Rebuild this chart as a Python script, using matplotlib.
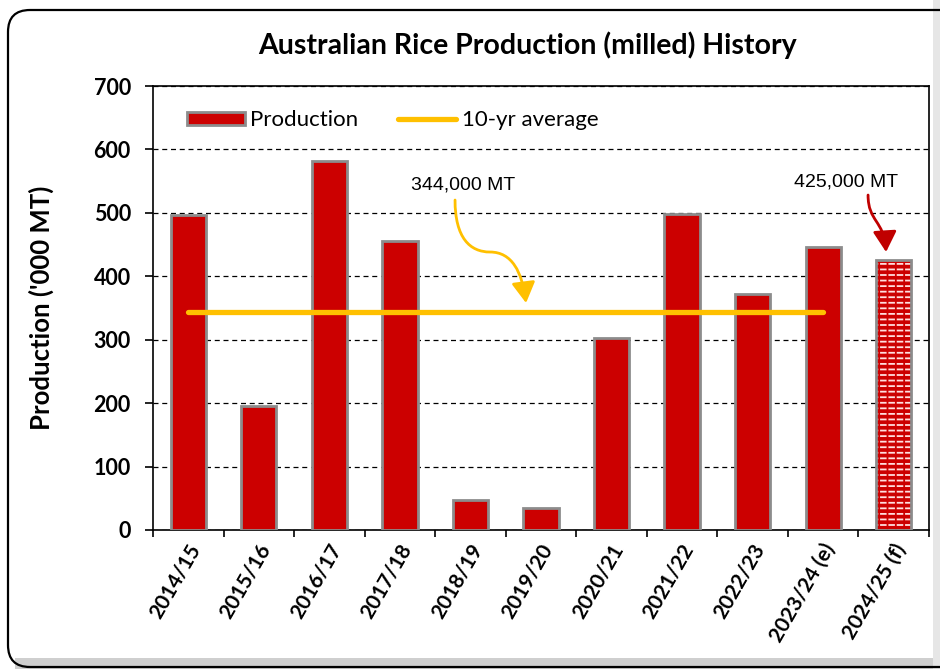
import matplotlib.pyplot as plt
from matplotlib.patches import FancyBboxPatch, Rectangle, FancyArrowPatch
from matplotlib.path import Path
from matplotlib.lines import Line2D
from matplotlib.transforms import IdentityTransform

# -------------------------------------------------------
# Données
# -------------------------------------------------------

seasons = ["2014/15", "2015/16", "2016/17", "2017/18", "2018/19", "2019/20",
           "2020/21", "2021/22", "2022/23", "2023/24 (e)", "2024/25 (f)"]
production = [497, 196, 582, 456, 47, 35, 303, 498, 372, 446, 425]
avg_value = 344
avg_span = seasons[:10]

plt.rcParams["font.family"] = ["Lato", "DejaVu Sans"]
plt.rcParams["hatch.linewidth"] = 1.3

fig = plt.figure(figsize=(9.4, 6.69), dpi=100)
fig.patch.set_facecolor("white")

# cadre arrondi + ombre grise
fig.patches.append(Rectangle((15, 0), 925, 11, transform=IdentityTransform(),
                             facecolor="#cfcfcf", edgecolor="none", zorder=0))
fig.patches.append(Rectangle((933, 0), 7, 669, transform=IdentityTransform(),
                             facecolor="#e6e6e6", edgecolor="none", zorder=0))
fig.patches.append(FancyBboxPatch((8, 2), 960, 657, transform=IdentityTransform(),
                                  boxstyle="round,pad=0,rounding_size=22",
                                  facecolor="none", edgecolor="black", linewidth=1.6,
                                  zorder=1))

ax = fig.add_axes([0.1628, 0.2078, 0.8255, 0.6636])

x = list(range(len(seasons)))
red = "#CC0000"
edge = "#8c8c8c"

# barres pleines
ax.bar(x[:-1], production[:-1], width=0.5, color=red, edgecolor=edge,
       linewidth=2, zorder=3)

# dernière barre (prévision) : motif pointillé
ax.bar(x[-1], production[-1], width=0.5, color=red, edgecolor="#ffdede",
       linewidth=0, hatch="---", zorder=3)
ax.bar(x[-1], production[-1], width=0.5, color="none", edgecolor=red,
       linewidth=0, hatch="||", zorder=3)
ax.bar(x[-1], production[-1], width=0.5, color="none", edgecolor=edge,
       linewidth=2, zorder=4)

# moyenne 10 ans
ax.plot([0, len(avg_span) - 1], [avg_value, avg_value], color="#FFC000",
        linewidth=3.8, solid_capstyle="round", zorder=5)

# axes
ax.set_xlim(-0.5, len(seasons) - 0.5)
ax.set_ylim(0, 700)
ax.set_yticks(range(0, 701, 100))
ax.yaxis.grid(True, linestyle=(0, (4, 3)), color="black", linewidth=0.9)
ax.set_axisbelow(True)
for s in ax.spines.values():
    s.set_linewidth(1.2)
ax.tick_params(axis="y", direction="out", length=6, width=1.2,
               labelsize=15.5, pad=10)
for lab in ax.get_yticklabels():
    lab.set_fontweight("bold")

ax.set_xticks([i - 0.5 for i in range(len(seasons) + 1)], minor=False)
ax.set_xticklabels([])
ax.tick_params(axis="x", direction="out", length=5, width=1.2)
for i, s in enumerate(seasons):
    ax.text(i + 0.1, -24, s, rotation=60, rotation_mode="anchor",
            ha="right", va="center", fontsize=15, fontweight="bold")

ax.set_ylabel("Production ('000 MT)", fontsize=18.5, fontweight="bold")
ax.yaxis.set_label_coords(-0.128, 0.5)

fig.text(0.561, 0.933, "Australian Rice Production (milled) History",
         ha="center", va="center", fontsize=20.5, fontweight="bold")

# légende
handles = [Rectangle((0, 0), 1, 1, facecolor=red, edgecolor=edge, linewidth=2),
           Line2D([], [], color="#FFC000", linewidth=3.8, solid_capstyle="round")]
ax.legend(handles, ["Production", "10-yr average"], loc="upper left",
          bbox_to_anchor=(0.018, 0.99), ncol=2, frameon=False, fontsize=16,
          handlelength=2.6, handleheight=0.55, handletextpad=0.25,
          columnspacing=1.8)

# annotations
narrow = ["Liberation Sans", "DejaVu Sans"]
ax.text(3.9, 544, "344,000 MT", ha="center", va="center", fontsize=14,
        family=narrow)
ax.text(9.32, 548, "425,000 MT", ha="center", va="center", fontsize=14,
        family=narrow)


def px(xp, yp):
    return ((xp - 153) / 70.54 - 0.5, (530 - yp) / 0.6343)


p1 = Path([px(455, 200), px(455, 238), px(470, 252), px(490, 252),
           px(512, 252), px(522, 272), px(526, 303)],
          [Path.MOVETO, Path.CURVE4, Path.CURVE4, Path.CURVE4,
           Path.CURVE4, Path.CURVE4, Path.CURVE4])
ax.add_patch(FancyArrowPatch(path=p1, transform=ax.transData,
                             arrowstyle="-|>,head_length=0.7,head_width=0.4",
                             mutation_scale=18, color="#FFC000",
                             linewidth=2, zorder=6))

p2 = Path([px(868, 195), px(868, 222), px(884, 220), px(886, 252)],
          [Path.MOVETO, Path.CURVE4, Path.CURVE4, Path.CURVE4])
ax.add_patch(FancyArrowPatch(path=p2, transform=ax.transData,
                             arrowstyle="-|>,head_length=0.7,head_width=0.4",
                             mutation_scale=18, color="#C00000",
                             linewidth=2, zorder=6))

plt.savefig("out.png", dpi=100)
